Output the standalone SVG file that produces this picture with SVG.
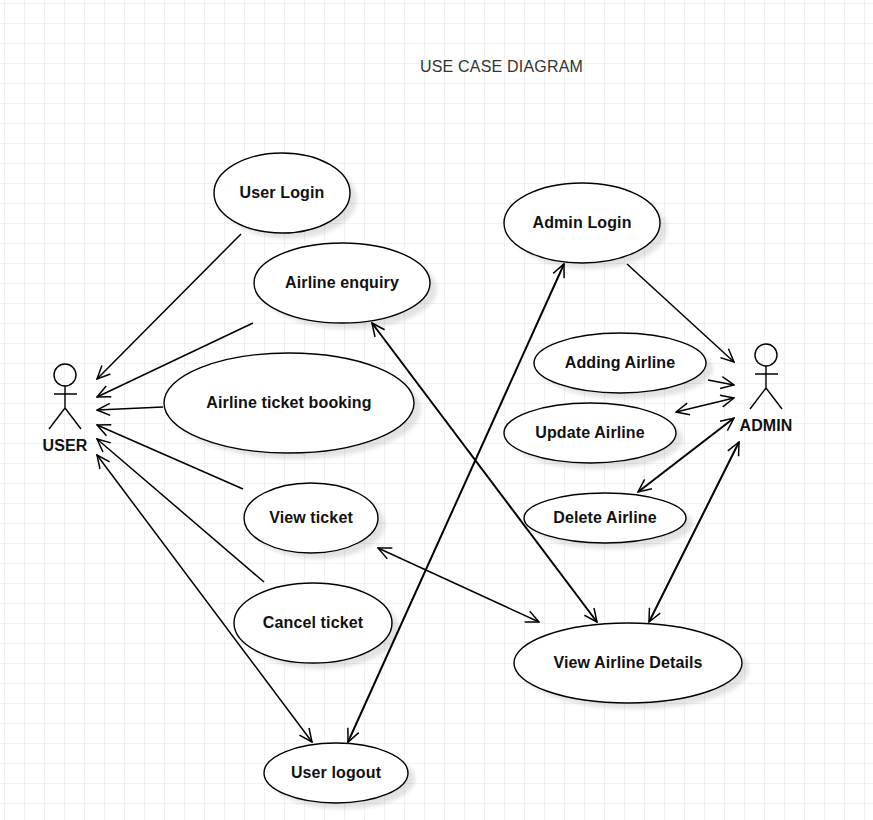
<svg xmlns="http://www.w3.org/2000/svg" width="873" height="820" viewBox="0 0 873 820">
<defs>
<pattern id="grid" x="4" y="3" width="20" height="20" patternUnits="userSpaceOnUse"><path d="M0 20V0H20" fill="none" stroke="#e3e3e3" stroke-width="1"/></pattern>
<marker id="arr" viewBox="0 0 16 16" refX="15" refY="8" markerWidth="16" markerHeight="16" markerUnits="userSpaceOnUse" orient="auto-start-reverse"><path d="M2 2L15 8L2 14" fill="none" stroke="#000" stroke-width="1.5"/></marker>
<filter id="sh" x="-20%" y="-20%" width="140%" height="140%"><feGaussianBlur stdDeviation="2"/></filter>
<style>
.t{font-family:"Liberation Sans",Arial,sans-serif;font-size:16px;font-weight:700;text-anchor:middle;fill:#111;letter-spacing:.12px}
.e{fill:#fff;stroke:#000;stroke-width:1.4}
.s{fill:#000;opacity:.11;filter:url(#sh)}
.l{fill:none;stroke:#000;stroke-width:1.4}
.a{fill:none;stroke:#000;stroke-width:1.5;marker-end:url(#arr)}
.b{fill:none;stroke:#000;stroke-width:1.5;marker-end:url(#arr);marker-start:url(#arr)}
.h{stroke-width:2}
</style>
</defs>
<rect width="873" height="820" fill="#fff"/>
<rect width="873" height="820" fill="url(#grid)"/>
<text x="501.500" y="72" style="font-family:'Liberation Sans',Arial,sans-serif;font-size:16px;letter-spacing:.2px;fill:#333;text-anchor:middle">USE CASE DIAGRAM</text>
<g id="connectors">
<path class="a" d="M241 234L97 379"/>
<path class="a" d="M253 323L97 397"/>
<path class="a" d="M163 407L97 410"/>
<path class="a" d="M243 489L97 425"/>
<path class="a" d="M264 582L97 439"/>
<path class="b" d="M97 455L312 742"/>
<path class="b h" d="M564 264L348 742"/>
<path class="a" d="M627 264L734 362"/>
<path class="a" d="M708 380L734 385"/>
<path class="b" d="M676 412L734 398"/>
<path class="b h" d="M638 492L734 418"/>
<path class="b h" d="M739 442L649 622"/>
<path class="b h" d="M372 323L597 622"/>
<path class="b" d="M378 548L539 622"/>
</g>
<g id="user-login"><ellipse class="s" cx="289" cy="199" rx="68" ry="40"/><ellipse class="e" cx="282" cy="193" rx="68" ry="40"/><text class="t" x="282" y="198">User Login</text></g>
<g id="airline-enquiry"><ellipse class="s" cx="349" cy="289" rx="88" ry="40"/><ellipse class="e" cx="342" cy="283" rx="88" ry="40"/><text class="t" x="342" y="288">Airline enquiry</text></g>
<g id="airline-ticket-booking"><ellipse class="s" cx="296" cy="409" rx="125" ry="50"/><ellipse class="e" cx="289" cy="403" rx="125" ry="50"/><text class="t" x="289" y="408">Airline ticket booking</text></g>
<g id="view-ticket"><ellipse class="s" cx="318" cy="524" rx="67" ry="35"/><ellipse class="e" cx="311" cy="518" rx="67" ry="35"/><text class="t" x="311" y="523">View ticket</text></g>
<g id="cancel-ticket"><ellipse class="s" cx="320" cy="629" rx="79" ry="40"/><ellipse class="e" cx="313" cy="623" rx="79" ry="40"/><text class="t" x="313" y="628">Cancel ticket</text></g>
<g id="user-logout"><ellipse class="s" cx="343" cy="779" rx="72" ry="30"/><ellipse class="e" cx="336" cy="773" rx="72" ry="30"/><text class="t" x="336" y="778">User logout</text></g>
<g id="admin-login"><ellipse class="s" cx="589" cy="229" rx="78" ry="40"/><ellipse class="e" cx="582" cy="223" rx="78" ry="40"/><text class="t" x="582" y="228">Admin Login</text></g>
<g id="adding-airline"><ellipse class="s" cx="627" cy="369" rx="86" ry="30"/><ellipse class="e" cx="620" cy="363" rx="86" ry="30"/><text class="t" x="620" y="368">Adding Airline</text></g>
<g id="update-airline"><ellipse class="s" cx="597" cy="439" rx="86" ry="30"/><ellipse class="e" cx="590" cy="433" rx="86" ry="30"/><text class="t" x="590" y="438">Update Airline</text></g>
<g id="delete-airline"><ellipse class="s" cx="612" cy="524" rx="81" ry="25"/><ellipse class="e" cx="605" cy="518" rx="81" ry="25"/><text class="t" x="605" y="523">Delete Airline</text></g>
<g id="view-airline-details"><ellipse class="s" cx="635" cy="669" rx="114" ry="40"/><ellipse class="e" cx="628" cy="663" rx="114" ry="40"/><text class="t" x="628" y="668">View Airline Details</text></g>
<g id="user">
<circle class="l" cx="65" cy="375" r="11"/>
<path class="l" d="M65 386V408M54 394H77M65 408L49 429M65 408L81 429"/>
<text class="t" x="65" y="451">USER</text>
</g>
<g id="admin">
<circle class="l" cx="766" cy="355" r="11"/>
<path class="l" d="M766 366V388M755 374H778M766 388L750 409M766 388L782 409"/>
<text class="t" x="766" y="431">ADMIN</text>
</g>
</svg>
